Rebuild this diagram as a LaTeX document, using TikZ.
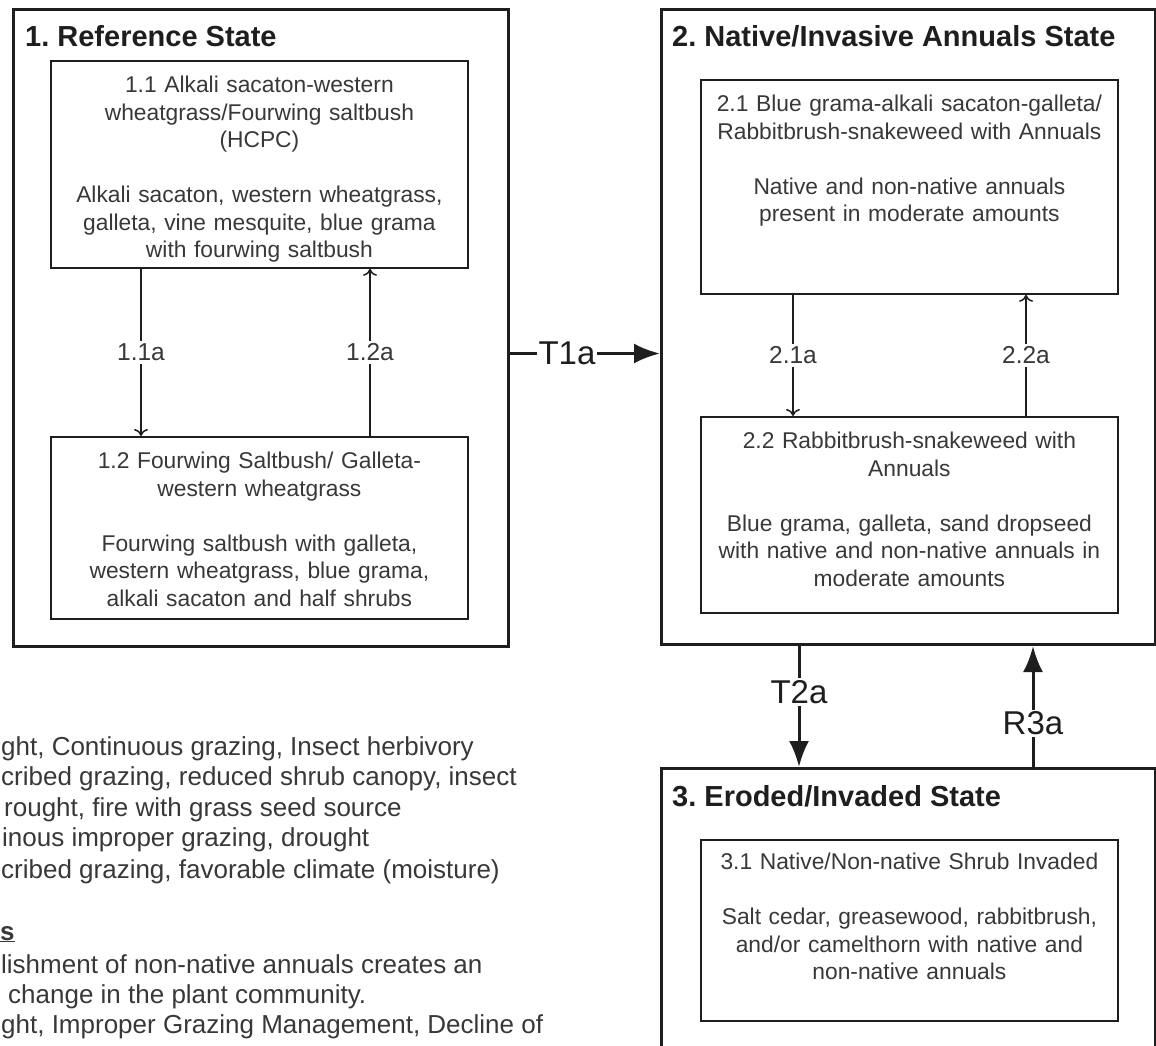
\documentclass[tikz,border=0pt]{standalone}
\usepackage{fontspec}
\setmainfont{Liberation Sans}
\usepackage{xcolor}
\definecolor{ink}{HTML}{1E1E1E}
\definecolor{soft-ink}{HTML}{383838}
\usepackage{tikz}
\usetikzlibrary{positioning}
\usetikzlibrary{arrows.meta}
\frenchspacing
\tikzset{state/.style = {draw=ink, line width=3pt, anchor=north west, inner sep=0pt, minimum width=495pt}}
\tikzset{community/.style = {draw=ink, line width=1.8pt, anchor=north west, inner sep=0pt, minimum width=417pt}}
\tikzset{ctext/.style = {align=center, text width=412pt, inner sep=0pt, text=soft-ink, font=\fontsize{22.8}{27.5}\selectfont}}
\tikzset{title/.style = {anchor=base west, inner sep=0pt, text=ink, font=\fontsize{29}{34}\selectfont\bfseries}}
\tikzset{pathway/.style = {draw=ink, line width=1.5pt, -{To[length=7pt, width=14pt]}}}
\tikzset{trans/.style = {draw=ink, line width=3pt, -{Latex[length=26pt, width=20pt]}}}
\tikzset{plabel/.style = {fill=white, inner sep=3pt, text=soft-ink, font=\fontsize{24.5}{28}\selectfont}}
\tikzset{tlabel/.style = {fill=white, inner sep=2pt, text=ink, font=\fontsize{33}{38}\selectfont}}
\tikzset{legend/.style = {anchor=base west, inner sep=0pt, text=soft-ink, font=\fontsize{26}{30}\selectfont}}

\begin{document}
\begin{tikzpicture}[x=1pt, y=-1pt]

\useasboundingbox (0,0) rectangle (1156,1045);
\clip (0,0) rectangle (1156,1045);

% states
\node[state, minimum height=637pt] (s1) at (12,8) {};
\node[state, minimum height=635pt, minimum width=494pt] (s2) at (660,8) {};
\node[state, minimum height=320pt, minimum width=494pt] (s3) at (660,767) {};

\node[title] (t1) at (25,46) {1. Reference State};
\node[title] (t2) at (672,46) {2. Native/Invasive Annuals State};
\node[title] (t3) at (672,806) {3. Eroded/Invaded State};

% plant communities
\node[community, minimum height=207pt] (p11) at (50,60) {};
\node[community, minimum height=182pt] (p12) at (50,436) {};
\node[community, minimum height=214pt] (p21) at (700,79) {};
\node[community, minimum height=196pt] (p22) at (700,416) {};
\node[community, minimum height=181pt] (p31) at (700,839) {};

\node[ctext, below=16pt of p11.north] (c11) {
  1.1 Alkali sacaton-western\\
  wheatgrass/Fourwing saltbush\\
  (HCPC)\\[27.5pt]
  Alkali sacaton, western wheatgrass,\\
  galleta, vine mesquite, blue grama\\
  with fourwing saltbush
};
\node[ctext, below=16pt of p12.north] (c12) {
  1.2 Fourwing Saltbush/ Galleta-\\
  western wheatgrass\\[27.5pt]
  Fourwing saltbush with galleta,\\
  western wheatgrass, blue grama,\\
  alkali sacaton and half shrubs
};
\node[ctext, below=16pt of p21.north] (c21) {
  2.1 Blue grama-alkali sacaton-galleta/\\
  Rabbitbrush-snakeweed with Annuals\\[27.5pt]
  Native and non-native annuals\\
  present in moderate amounts
};
\node[ctext, below=16pt of p22.north] (c22) {
  2.2 Rabbitbrush-snakeweed with\\
  Annuals\\[27.5pt]
  Blue grama, galleta, sand dropseed\\
  with native and non-native annuals in\\
  moderate amounts
};
\node[ctext, below=14pt of p31.north] (c31) {
  3.1 Native/Non-native Shrub Invaded\\[27.5pt]
  Salt cedar, greasewood, rabbitbrush,\\
  and/or camelthorn with native and\\
  non-native annuals
};

% community pathways
\draw[pathway] ([xshift=91pt]p11.south west) -- ([xshift=91pt]p12.north west) node[midway, plabel]{1.1a};
\draw[pathway] ([xshift=320pt]p12.north west) -- ([xshift=320pt]p11.south west) node[midway, plabel]{1.2a};
\draw[pathway] ([xshift=93pt]p21.south west) -- ([xshift=93pt]p22.north west) node[midway, plabel]{2.1a};
\draw[pathway] ([xshift=326pt]p22.north west) -- ([xshift=326pt]p21.south west) node[midway, plabel]{2.2a};

% transitions
\draw[trans] ([yshift=-25.5pt]s1.east) -- ([yshift=-25.5pt]s1.east -| s2.west) node[pos=0.38, tlabel]{T1a};
\draw[trans] ([xshift=139pt]s2.south west) -- ([xshift=139pt]s3.north west) node[pos=0.38, tlabel]{T2a};
\draw[trans] ([xshift=373pt]s3.north west) -- ([xshift=373pt]s2.south west) node[pos=0.36, tlabel]{R3a};

% legend (cut at the left edge)
\node[legend] (l1) at (1,755) {ght, Continuous grazing, Insect herbivory};
\node[legend] (l2) at (1,785) {cribed grazing, reduced shrub canopy, insect};
\node[legend] (l3) at (4,816) {rought, fire with grass seed source};
\node[legend] (l4) at (2,846) {inous improper grazing, drought};
\node[legend] (l5) at (1,878) {cribed grazing, favorable climate (moisture)};
\node[legend, font=\fontsize{26}{30}\selectfont\bfseries] (l6) at (0,940) {\underline{s}};
\node[legend] (l7) at (1,973) {lishment of non-native annuals creates an};
\node[legend] (l8) at (8,1003) {change in the plant community.};
\node[legend] (l9) at (1,1033) {ght, Improper Grazing Management, Decline of};

\end{tikzpicture}
\end{document}
